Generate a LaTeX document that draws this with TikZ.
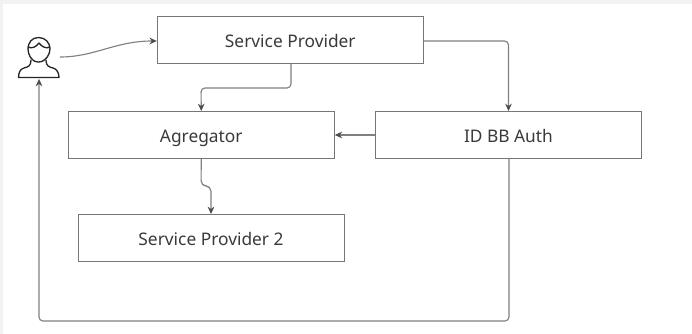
\documentclass[tikz,border=0pt]{standalone}
\usepackage{fontspec}
\setmainfont{Noto Sans}
\usetikzlibrary{arrows.meta,calc}
\definecolor{edgegray}{HTML}{808080}
\definecolor{boxgray}{HTML}{767676}
\definecolor{textgray}{HTML}{3A3A3A}
\definecolor{stripgray}{HTML}{F2F2F2}
\tikzset{
  box/.style={draw=boxgray,line width=0.75pt,fill=white,minimum width=199.5pt,minimum height=35.25pt,inner sep=0pt,text=textgray,text height=12pt,text depth=1.2pt,font=\fontsize{13}{15}\selectfont},
  link/.style={draw=edgegray,line width=0.85pt,-{Stealth[length=5.5pt,width=5pt,color=black!70]},rounded corners=3pt},
  usericon/.style={draw=black!85,line width=1pt,line join=round,line cap=round},
}
\begin{document}
\begin{tikzpicture}[x=0.75pt,y=-0.75pt]
\useasboundingbox (0,0) rectangle (692,334);
\fill[stripgray] (0,0) rectangle (692,4);
\fill[stripgray] (0,0) rectangle (3,334);
\node[box] (sp) at (290.3,40) {Service Provider};
\node[box] (ag) at (201.3,135) {Agregator};
\node[box] (id) at (508.5,135) {ID BB Auth};
\node[box] (sp2) at (211,238) {Service Provider 2};
\node[minimum width=30.75pt,minimum height=31pt,inner sep=0pt] (user) at (38.5,58) {};
% person icon
\draw[usericon] (38.5,37.5) .. controls (45,37.5) and (50,42.5) .. (50,49) .. controls (50,54) and (46,62) .. (38.5,62) .. controls (31,62) and (28,54) .. (28,49) .. controls (28,42.5) and (32,37.5) .. (38.5,37.5) -- cycle;
\draw[usericon] (28,47) .. controls (32,49) and (36,47) .. (39,43) .. controls (42,47) and (46,49) .. (50,47);
\draw[usericon] (31,60) .. controls (31,66) and (28,67) .. (24,68) .. controls (20,69) and (18.5,73) .. (18.5,77.5) -- (59,77.5) .. controls (59,73) and (57,69) .. (53,68) .. controls (49,67) and (46,66) .. (46,60);
\coordinate (ustart) at (60,57);
\coordinate (loopa) at (509,321);
\coordinate (loopb) at (39,321);
% connectors
\draw[link] (ustart) .. controls (95,57) and (115,41) .. (sp.west |- 0,41);
\draw[link] (sp.east |- 0,41) -| (id.north);
\draw[link] (291,63) -- (291,88) -- (201,88) -- (ag.north);
\draw[link] (id.west) -- (ag.east);
\draw[link,rounded corners=4pt] (ag.south) -- (201,186) -- (211,186) -- (sp2.north);
\draw[link] (id.south -| loopa) -- (loopa) -- (loopb) -- (user.south -| loopb);
\end{tikzpicture}
\end{document}
